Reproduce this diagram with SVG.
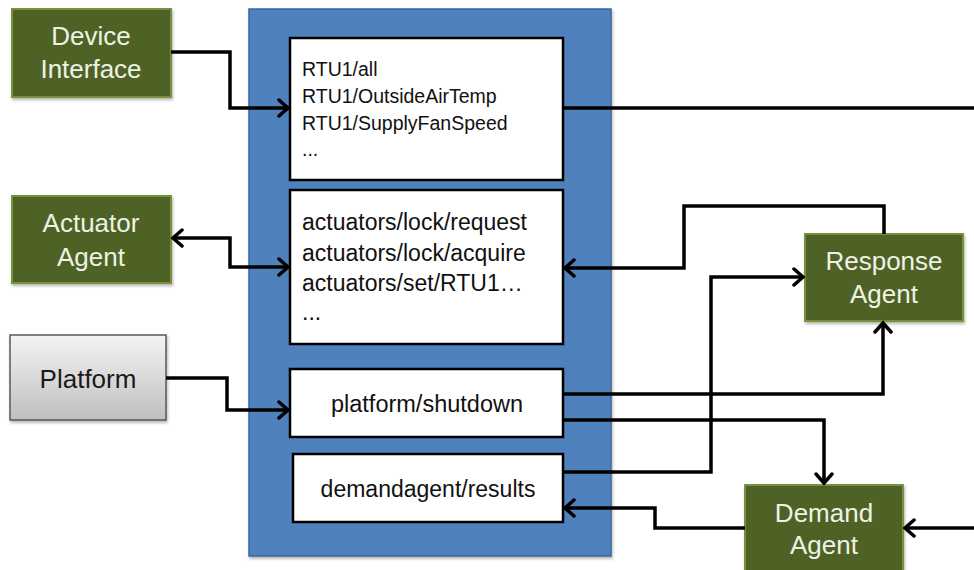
<svg xmlns="http://www.w3.org/2000/svg" width="974" height="570" viewBox="0 0 974 570">
<style>
.agent{fill:#4f6228;stroke:#76923c;stroke-width:2}
.agentText{font-family:"Liberation Sans",Arial,sans-serif;font-size:26px;fill:#eef2e4;text-anchor:middle}
.topic{fill:#ffffff;stroke:#000000;stroke-width:2.5}
.topicText{font-family:"Liberation Sans",Arial,sans-serif;fill:#111111}
.conn{fill:none;stroke:#000000;stroke-width:3.5;stroke-linejoin:miter}
</style>
<defs>
<linearGradient id="gray" x1="0" y1="0" x2="0" y2="1">
<stop offset="0" stop-color="#f4f4f4"/>
<stop offset="1" stop-color="#bfbfbf"/>
</linearGradient>
<filter id="sh" x="-10%" y="-10%" width="120%" height="130%">
<feDropShadow dx="1" dy="2" stdDeviation="1.5" flood-color="#000" flood-opacity="0.3"/>
</filter>
<marker id="arr" markerUnits="userSpaceOnUse" markerWidth="20" markerHeight="20" refX="12" refY="10" orient="auto-start-reverse" viewBox="0 0 20 20">
<path d="M3,2 L12,10 L3,18" fill="none" stroke="#000" stroke-width="3.5" stroke-linecap="round" stroke-linejoin="miter"/>
</marker>
</defs>

<g id="bus">
<rect x="249" y="9" width="362" height="547" fill="#4f81bd" stroke="#3a679c" stroke-width="1.5" filter="url(#sh)"/>
</g>

<g id="topic-rtu">
<rect class="topic" x="290" y="38" width="273" height="142"/>
<text class="topicText" font-size="19.5" x="302" y="76">RTU1/all</text>
<text class="topicText" font-size="19.5" x="302" y="103">RTU1/OutsideAirTemp</text>
<text class="topicText" font-size="19.5" x="302" y="130">RTU1/SupplyFanSpeed</text>
<text class="topicText" font-size="19.5" x="302" y="156">...</text>
</g>

<g id="topic-actuators">
<rect class="topic" x="290" y="190" width="273" height="154"/>
<text class="topicText" font-size="23" x="302" y="230">actuators/lock/request</text>
<text class="topicText" font-size="23" x="302" y="261">actuators/lock/acquire</text>
<text class="topicText" font-size="23" x="302" y="291">actuators/set/RTU1…</text>
<text class="topicText" font-size="23" x="302" y="320">...</text>
</g>

<g id="topic-platform">
<rect class="topic" x="290" y="369" width="273" height="68"/>
<text class="topicText" font-size="23.5" x="427" y="412" text-anchor="middle">platform/shutdown</text>
</g>

<g id="topic-demand">
<rect class="topic" x="293" y="454" width="270" height="68"/>
<text class="topicText" font-size="23" x="428" y="497" text-anchor="middle">demandagent/results</text>
</g>

<g id="device-interface">
<rect class="agent" x="12" y="9" width="159" height="88" filter="url(#sh)"/>
<text class="agentText" x="91" y="45">Device</text>
<text class="agentText" x="91" y="78">Interface</text>
</g>

<g id="actuator-agent">
<rect class="agent" x="12" y="196" width="159" height="87" filter="url(#sh)"/>
<text class="agentText" x="91" y="232">Actuator</text>
<text class="agentText" x="91" y="266">Agent</text>
</g>

<g id="platform">
<rect x="10" y="335" width="156" height="85" fill="url(#gray)" stroke="#595959" stroke-width="1.5" filter="url(#sh)"/>
<text class="agentText" x="88" y="388" style="fill:#1a1a1a">Platform</text>
</g>

<g id="response-agent">
<rect class="agent" x="805" y="234" width="158" height="87" filter="url(#sh)"/>
<text class="agentText" x="884" y="270">Response</text>
<text class="agentText" x="884" y="303">Agent</text>
</g>

<g id="demand-agent">
<rect class="agent" x="745" y="485" width="158" height="95" filter="url(#sh)"/>
<text class="agentText" x="824" y="522">Demand</text>
<text class="agentText" x="824" y="554">Agent</text>
</g>

<g id="connectors">
<path class="conn" d="M171,52 H230 V108 H288" marker-end="url(#arr)"/>
<path class="conn" d="M563,108 H974"/>
<path class="conn" d="M173,238 H230 V267 H288" marker-start="url(#arr)" marker-end="url(#arr)"/>
<path class="conn" d="M166,378 H227 V410 H288" marker-end="url(#arr)"/>
<path class="conn" d="M884,234 V206 H684 V268 H565" marker-end="url(#arr)"/>
<path class="conn" d="M563,472 H711 V277 H803" marker-end="url(#arr)"/>
<path class="conn" d="M563,394 H883 V323" marker-end="url(#arr)"/>
<path class="conn" d="M563,420 H824 V483" marker-end="url(#arr)"/>
<path class="conn" d="M745,528 H655 V508 H565" marker-end="url(#arr)"/>
<path class="conn" d="M974,528 H905" marker-end="url(#arr)"/>
</g>
</svg>
